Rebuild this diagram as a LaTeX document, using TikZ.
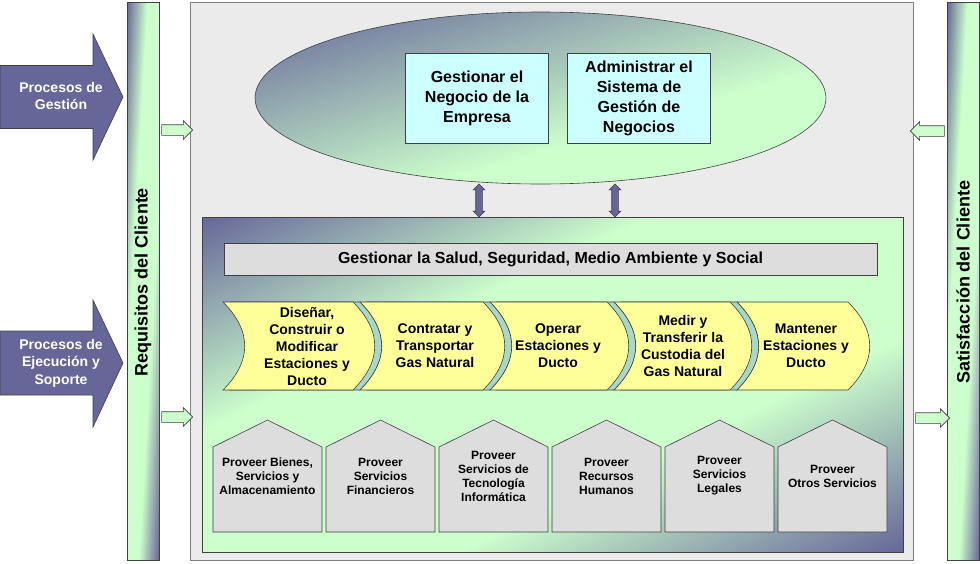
\documentclass[tikz,border=0pt]{standalone}
\usepackage{fontspec}
\setmainfont{Liberation Sans}
\usetikzlibrary{shapes.arrows,shapes.geometric,positioning}

\definecolor{vpurple}{HTML}{666699}
\definecolor{vgreen}{HTML}{CCFFCC}
\definecolor{vyellow}{HTML}{FFFF99}
\definecolor{vcyan}{HTML}{CCFFFF}
\definecolor{vgray}{HTML}{DDDDDD}
\definecolor{vback}{HTML}{EBEBEB}
\definecolor{vteal}{HTML}{A8D8C8}
\definecolor{vline}{HTML}{404040}

\pgfdeclarehorizontalshading{diagshade}{100bp}{color(0bp)=(vpurple); color(25bp)=(vpurple); color(41bp)=(vgreen); color(59bp)=(vgreen); color(75bp)=(vpurple); color(100bp)=(vpurple)}
\pgfdeclarehorizontalshading{ellshade}{100bp}{color(0bp)=(vpurple); color(25bp)=(vpurple); color(58bp)=(vgreen); color(100bp)=(vgreen)}

\newcommand{\scrollpath}[2]{(#1,302) -- (#2,302) .. controls (#2+29,331) and (#2+29,361) .. (#2,390) -- (#1,390) .. controls (#1+29,361) and (#1+29,331) .. (#1,302) -- cycle}

\begin{document}
\begin{tikzpicture}[x=1pt,y=-1pt,font=\bfseries,
 outl/.style={draw=vline,line width=0.6pt},
 sidebar/.style={outl,minimum width=32pt,minimum height=558pt,inner sep=0pt},
 barlabel/.style={rotate=90,font=\bfseries\fontsize{18}{22}\selectfont},
 bigarrow/.style={outl,fill=vpurple},
 ptext/.style={white,align=center,font=\bfseries\fontsize{14}{17.5}\selectfont},
 garrow/.style={single arrow,outl,fill=vgreen,minimum width=18pt,inner sep=5pt,single arrow head extend=4pt,single arrow head indent=0pt},
 dblarrow/.style={double arrow,rotate=90,outl,fill=vpurple,minimum height=33pt,minimum width=11pt,inner sep=3pt,double arrow head extend=2.5pt},
 ebox/.style={outl,fill=vcyan,minimum width=143pt,minimum height=90pt,inner sep=0pt,align=center,font=\bfseries\fontsize{16}{20}\selectfont},
 ssma/.style={outl,fill=vgray,minimum width=653pt,minimum height=32pt,inner sep=0pt,font=\bfseries\fontsize{16}{20}\selectfont},
 band/.style={outl,fill=vteal},
 scroll/.style={outl,fill=vyellow},
 stext/.style={align=center,font=\bfseries\fontsize{14}{17}\selectfont},
 hse/.style={outl,fill=vgray},
 htext/.style={align=center,font=\bfseries\fontsize{12}{14}\selectfont}]
\useasboundingbox (0,0) rectangle (980,563);

\node[outl,draw=gray,fill=vback,minimum width=723pt,minimum height=558pt,inner sep=0pt] (main) at (551.5,281) {};

\begin{scope}
\clip (127,2) rectangle (159,560);
\shade[shading=diagshade,transform canvas={rotate around={-3.28:(143,281)}}] (111.05,-9) rectangle (174.95,571);
\end{scope}
\node[sidebar] (req) at (143,281) {};
\node[barlabel] (reqlbl) at (143,282) {Requisitos del Cliente};
\begin{scope}
\clip (947,2) rectangle (979,560);
\shade[shading=diagshade,transform canvas={rotate around={-3.28:(963,281)}}] (931.05,-9) rectangle (994.95,571);
\end{scope}
\node[sidebar] (sat) at (963,281) {};
\node[barlabel] (satlbl) at (963,282) {Satisfacción del Cliente};

\draw[bigarrow] (0,65.5) -- (93,65.5) -- (93,34) -- (123,97) -- (93,160) -- (93,128.5) -- (0,128.5) -- cycle;
\node[ptext] (pg) at (61,96) {Procesos de\\Gestión};
\draw[bigarrow] (0,331) -- (93,331) -- (93,300) -- (123,363) -- (93,427) -- (93,395) -- (0,395) -- cycle;
\node[ptext] (pe) at (61,363) {Procesos de\\Ejecución y\\Soporte};

\node[garrow,minimum height=31pt] (ga1) at (174.5,130) {};
\node[garrow,minimum height=31pt] (ga2) at (174.5,417) {};
\node[garrow,minimum height=34pt,shape border rotate=180] (ga3) at (930,131) {};
\node[garrow,minimum height=34pt] (ga4) at (930,418) {};

\begin{scope}
\clip (540.5,98) ellipse [x radius=285.5,y radius=86];
\shade[shading=ellshade,transform canvas={rotate around={-73.24:(540.5,98)}}] (375.8,-212) rectangle (705.2,408);
\end{scope}
\node[ellipse,outl,minimum width=571pt,minimum height=172pt,inner sep=0pt] (ell) at (540.5,98) {};
\node[ebox] (gne) at (477,98) {Gestionar el\\Negocio de la\\Empresa};
\node[ebox] (asg) at (639,98) {Administrar el\\Sistema de\\Gestión de\\Negocios};

\begin{scope}
\clip (202,217) rectangle (903,552);
\shade[shading=diagshade,transform canvas={rotate around={-64.46:(552.5,384.5)}}] (250.24,-15.5) rectangle (854.76,784.5);
\end{scope}
\node[outl,minimum width=701pt,minimum height=335pt,inner sep=0pt] (inner) at (552.5,384.5) {};
\node[dblarrow] (da1) at (479,200.5) {};
\node[dblarrow] (da2) at (615,200.5) {};

\node[ssma] (hse) at (550.5,259) {Gestionar la Salud, Seguridad, Medio Ambiente y Social};

\draw[band,xshift=7pt] \scrollpath{223}{353};
\draw[scroll] \scrollpath{223}{353};
\node[stext] (s1) at (307,346) {Diseñar,\\Construir o\\Modificar\\Estaciones y\\Ducto};
\draw[band,xshift=7pt] \scrollpath{360}{483};
\draw[scroll] \scrollpath{360}{483};
\node[stext] (s2) at (435,346) {Contratar y\\Transportar\\Gas Natural};
\draw[band,xshift=7pt] \scrollpath{490}{607};
\draw[scroll] \scrollpath{490}{607};
\node[stext] (s3) at (558,346) {Operar\\Estaciones y\\Ducto};
\draw[band,xshift=7pt] \scrollpath{614}{730};
\draw[scroll] \scrollpath{614}{730};
\node[stext] (s4) at (683,346) {Medir y\\Transferir la\\Custodia del\\Gas Natural};
\draw[scroll] \scrollpath{737}{848};
\node[stext] (s5) at (806,346) {Mantener\\Estaciones y\\Ducto};

\draw[hse] (213,447) -- (267.5,420) -- (322,447) -- (322,532) -- (213,532) -- cycle;
\node[htext] (h1) at (267.5,476) {Proveer Bienes,\\Servicios y\\Almacenamiento};
\draw[hse] (326,447) -- (380.5,420) -- (435,447) -- (435,532) -- (326,532) -- cycle;
\node[htext] (h2) at (380.5,476) {Proveer\\Servicios\\Financieros};
\draw[hse] (439,447) -- (493.5,420) -- (548,447) -- (548,532) -- (439,532) -- cycle;
\node[htext] (h3) at (493.5,476) {Proveer\\Servicios de\\Tecnología\\Informática};
\draw[hse] (552,447) -- (606.5,420) -- (661,447) -- (661,532) -- (552,532) -- cycle;
\node[htext] (h4) at (606.5,476) {Proveer\\Recursos\\Humanos};
\draw[hse] (665,447) -- (719.5,420) -- (774,447) -- (774,532) -- (665,532) -- cycle;
\node[htext] (h5) at (719.5,476) {Proveer\\Servicios\\Legales};
\draw[hse] (778,447) -- (832.5,420) -- (887,447) -- (887,532) -- (778,532) -- cycle;
\node[htext] (h6) at (832.5,476) {Proveer\\Otros Servicios};
\end{tikzpicture}
\end{document}
